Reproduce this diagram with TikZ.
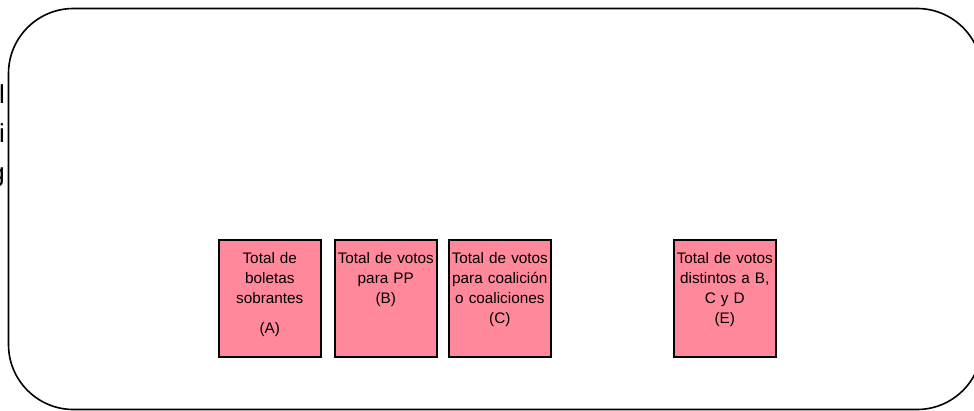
\documentclass[tikz,border=0pt]{standalone}
\usepackage{fontspec}
\setmainfont{Liberation Sans}
\definecolor{cellpink}{RGB}{255,137,155}
\tikzset{
  countbox/.style={draw=black, line width=1.6pt, fill=cellpink, minimum width=102pt,
    minimum height=117pt, anchor=north west},
  counttext/.style={anchor=north, text width=102pt, align=center, inner sep=0pt,
    font=\fontsize{15.3}{20}\selectfont}
}
\begin{document}
\begin{tikzpicture}[x=1pt,y=-1pt]
  \useasboundingbox (0,0) rectangle (974,411);
  \clip (0,0) rectangle (974,411);
  % text of the sheet behind the frame
  \node[anchor=north east, align=right, inner sep=0pt,
    font=\fontsize{26}{39}\selectfont] (behind) at (5,84) {l\\i\\g};
  \draw[line width=1.6pt, fill=white, rounded corners=65pt] (8.5,8.5) rectangle (982,409.5);
  % count boxes
  \node[countbox] (boxA) at (218,239) {};
  \node[countbox] (boxB) at (334,239) {};
  \node[countbox] (boxC) at (448,239) {};
  \node[countbox] (boxE) at (673,239) {};
  \node[counttext] (txtA) at ([yshift=-13pt]boxA.north) {Total de\\boletas\\sobrantes\\[10pt](A)};
  \node[counttext] (txtB) at ([yshift=-13pt]boxB.north) {Total de votos\\para PP\\(B)};
  \node[counttext] (txtC) at ([yshift=-13pt]boxC.north) {Total de votos\\para coalición\\o coaliciones\\(C)};
  \node[counttext] (txtE) at ([yshift=-13pt]boxE.north) {Total de votos\\distintos a B,\\C y D\\(E)};
\end{tikzpicture}
\end{document}
